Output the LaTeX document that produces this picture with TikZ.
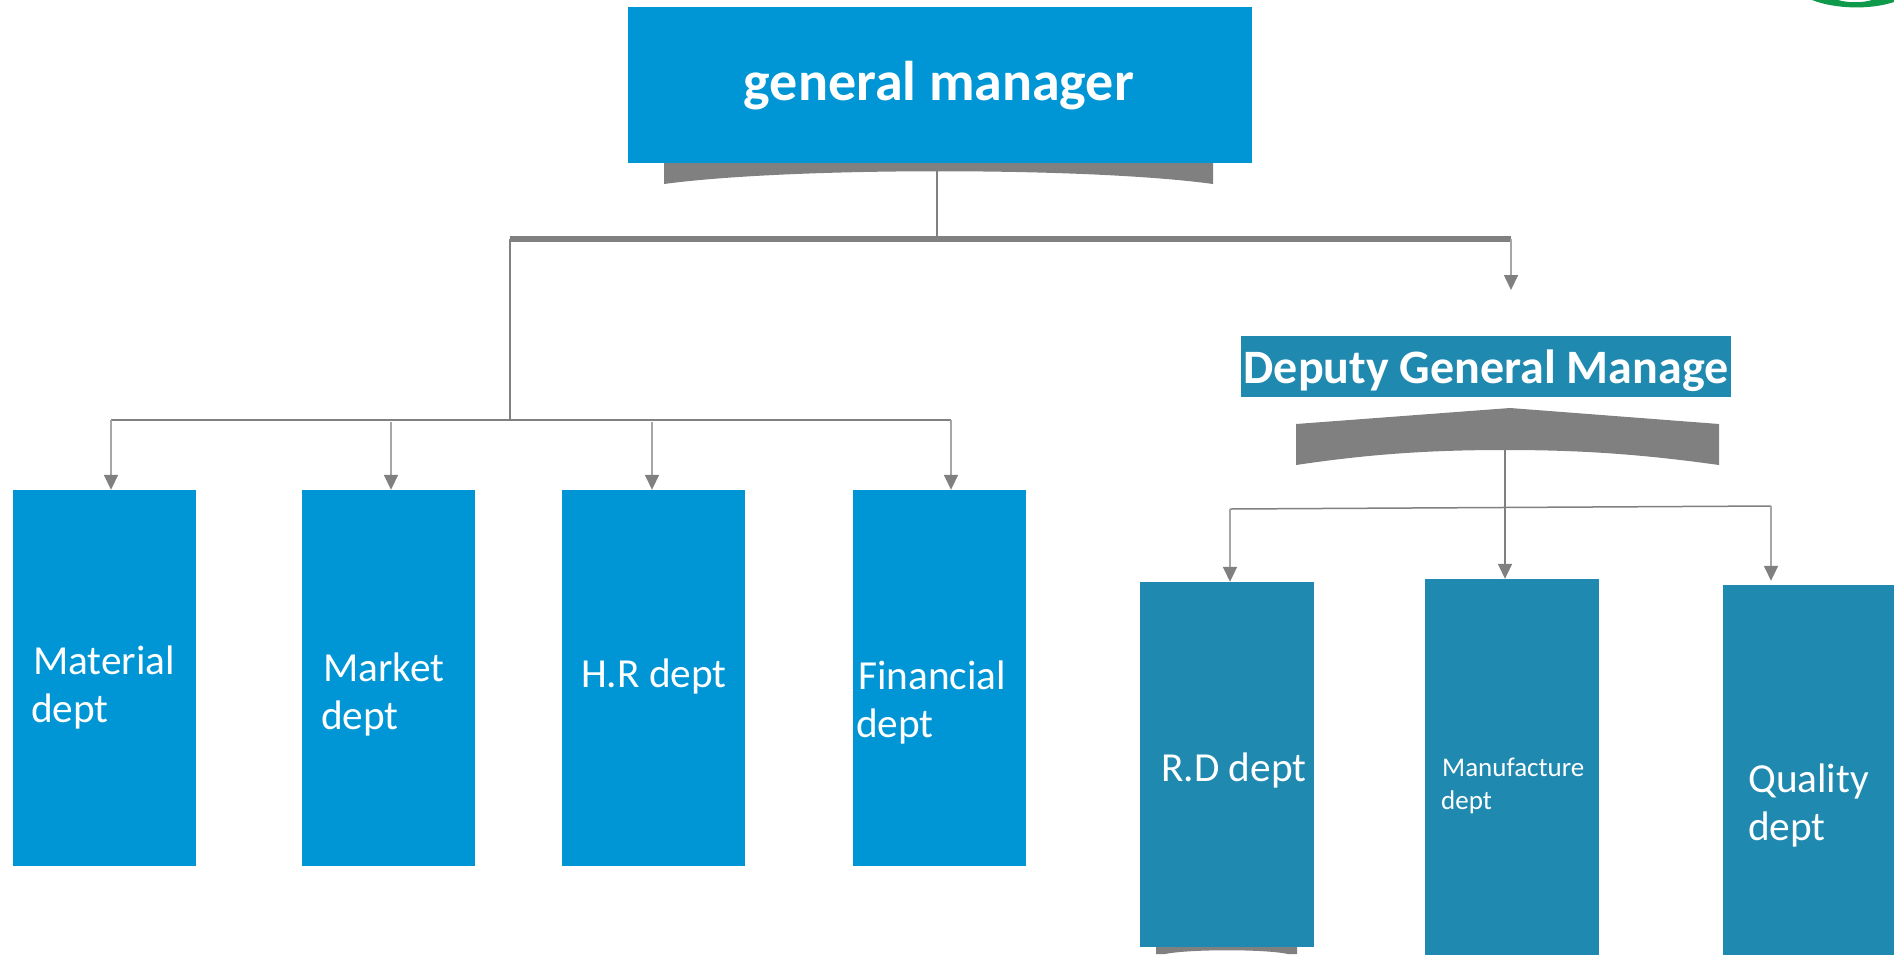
\documentclass[tikz,border=0pt]{standalone}
\usepackage{fontspec}
\setmainfont{Carlito}
\usetikzlibrary{arrows.meta}
\definecolor{gmblue}{HTML}{0096D6}
\definecolor{depteal}{HTML}{2089B0}
\definecolor{linegrey}{HTML}{808080}
\definecolor{armgrey}{HTML}{A6A6A6}
\definecolor{ringgreen}{HTML}{0E9A4A}
\tikzset{
  bluebox/.style={fill=gmblue,draw=none,inner sep=0pt},
  tealbox/.style={fill=depteal,draw=none,inner sep=0pt},
  lab/.style={anchor=base west,inner sep=0pt,text=white,font=\fontsize{41.3}{47}\selectfont},
  title/.style={anchor=base,inner sep=0pt,text=white,font=\bfseries\fontsize{56}{60}\selectfont},
  thin line/.style={draw=linegrey,line width=1.5pt},
  armline/.style={draw=armgrey,line width=1.7pt,-{Triangle[width=14pt,length=15pt,color=linegrey]}},
  downline/.style={draw=linegrey,line width=1.7pt,-{Triangle[width=14pt,length=15pt,color=linegrey]}},
  bar/.style={draw=linegrey,line width=6pt},
  swoop/.style={fill=linegrey,draw=none}
}
\newcommand{\bx}[6]{\node[#6,minimum width={(#4-#2)*1pt},minimum height={(#5-#3)*1pt}] (#1) at ({(#2+#4)/2},{(#3+#5)/2}) {};}
\begin{document}
\begin{tikzpicture}[x=1pt,y=-1pt]
\useasboundingbox (0,0) rectangle (1894,954);
\clip (0,0) rectangle (1894,954);
% decorative ring fragment
\fill[ringgreen] (1812,0) .. controls (1835,9) and (1870,10) .. (1894,2) -- (1894,0) -- (1872,0) .. controls (1862,3) and (1848,3) .. (1838,0) -- cycle;
% swoops
\path[swoop] (664,160) -- (1213,160) -- (1213,184) .. controls (1090,167) and (790,167) .. (664,184) -- cycle;
\path[swoop] (1296,424) -- (1510,408) -- (1719,424) -- (1719,465) .. controls (1640,454) and (1580,450) .. (1505,450) .. controls (1430,450) and (1370,454) .. (1296,465) -- cycle;
\path[swoop] (1156,945) -- (1297,945) -- (1297,954) -- (1288,954) .. controls (1265,949) and (1190,949) .. (1165,954) -- (1156,954) -- cycle;
% boxes
\bx{gm}{628}{7}{1252}{163}{bluebox}
\bx{material}{13}{490}{196}{866}{bluebox}
\bx{market}{302}{490}{475}{866}{bluebox}
\bx{hr}{562}{490}{745}{866}{bluebox}
\bx{financial}{853}{490}{1026}{866}{bluebox}
\bx{deputy}{1241}{336}{1731}{397}{tealbox}
\bx{rd}{1140}{582}{1314}{947}{tealbox}
\bx{manufacture}{1425}{579}{1599}{960}{tealbox}
\bx{quality}{1723}{585}{1900}{960}{tealbox}
% texts
\node[title] (tgm) at (939,100) {general manager};
\node[title,font=\bfseries\fontsize{48}{50}\selectfont] (tdep) at (1486,383) {Deputy General Manage};
\node[lab] (tmat) at (33,674) {Material};
\node[lab] (tmat2) at (31,722) {dept};
\node[lab] (tmar) at (323,681) {Market};
\node[lab] (tmar2) at (321,729) {dept};
\node[lab] (thr) at (581,687) {H.R dept};
\node[lab] (tfin) at (858,689) {Financial};
\node[lab] (tfin2) at (856,737) {dept};
\node[lab] (trd) at (1161,781) {R.D dept};
\node[lab,font=\fontsize{27}{34}\selectfont] (tman) at (1442,776) {Manufacture};
\node[lab,font=\fontsize{27}{34}\selectfont] (tman2) at (1441,809) {dept};
\node[lab] (tq) at (1748,792) {Quality};
\node[lab] (tq2) at (1748,840) {dept};
% junction coordinates
\coordinate (gmdrop) at (937,170);
\coordinate (barL) at (510,239);
\coordinate (barM) at (937,239);
\coordinate (barR) at (1511,239);
\coordinate (depstub) at (1511,290);
\coordinate (busJ) at (510,421);
\coordinate (busL) at (111,420);
\coordinate (busR) at (951,420);
\coordinate (arm2) at (391,422);
\coordinate (arm3) at (652,422);
\coordinate (dtrunk) at (1505,449);
\coordinate (dbusL) at (1230,509);
\coordinate (dbusR) at (1771,506);
% connectors
\draw[thin line] (gmdrop) -- (barM);
\draw[bar] (barL) -- (barR);
\draw[armline] (barR) -- (depstub);
\draw[thin line] (barL) -- (busJ);
\draw[thin line] (busL) -- (busR);
\draw[armline] (busL) -- (busL |- material.north);
\draw[armline] (arm2) -- (arm2 |- market.north);
\draw[armline] (arm3) -- (arm3 |- hr.north);
\draw[armline] (busR) -- (busR |- financial.north);
\draw[thin line] (dbusL) -- (dbusR);
\draw[downline] (dtrunk) -- (dtrunk |- manufacture.north);
\draw[armline] (dbusL) -- (dbusL |- rd.north);
\draw[armline] (dbusR) -- ([yshift=4pt]dbusR |- quality.north);
\end{tikzpicture}
\end{document}
